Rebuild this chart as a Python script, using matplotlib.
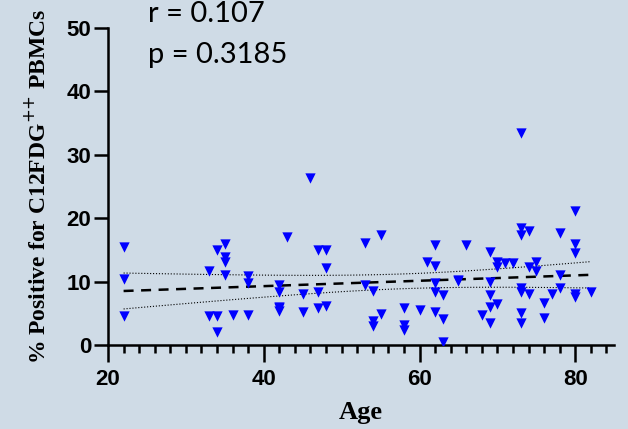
import numpy as np
from matplotlib import pyplot as plt
from matplotlib.ticker import MultipleLocator

# datos: edad y % positivo
edad = [22, 22, 22, 33, 33, 34, 34, 34, 35, 35, 35, 35, 36, 38, 38, 38,
        42, 42, 42, 42, 42, 43, 45, 45, 46, 47, 47, 47, 48, 48, 48,
        53, 53, 54, 54, 54, 55, 55, 58, 58, 58, 60, 61, 62, 62, 62, 62,
        62, 63, 63, 63, 65, 65, 66, 68, 69, 69, 69, 69, 69, 70, 70, 70,
        71, 72, 73, 73, 73, 73, 73, 73, 73, 74, 74, 74, 75, 75, 76, 76,
        77, 78, 78, 78, 80, 80, 80, 80, 80, 82]
positivo = [15.4, 10.4, 4.5, 11.7, 4.6, 15.0, 4.6, 2.1, 15.9, 13.8, 13.0, 11.0, 4.7, 10.8, 9.7, 4.7,
            9.5, 8.4, 6.0, 5.8, 5.3, 17.0, 8.0, 5.2, 26.4, 15.0, 8.3, 5.8, 15.0, 12.2, 6.2,
            16.1, 9.5, 8.5, 3.8, 3.0, 17.4, 4.9, 5.8, 3.2, 2.4, 5.5, 13.1, 15.8, 12.5, 9.7, 8.3,
            5.2, 7.9, 4.1, 0.5, 10.1, 10.3, 15.8, 4.7, 14.6, 10.0, 7.9, 6.0, 3.5, 13.1, 12.3, 6.4,
            12.9, 12.9, 33.4, 18.4, 17.4, 8.9, 8.3, 5.0, 3.5, 17.9, 12.3, 8.0, 13.0, 11.6, 6.6, 4.2,
            8.0, 17.6, 11.0, 8.9, 21.1, 15.9, 14.5, 8.0, 7.5, 8.3]

texto_r = "r = 0.107"
texto_p = "p = 0.3185"

fondo = '#cfdbe6'

x = np.array(edad, dtype=float)
y = np.array(positivo, dtype=float)

# regresion lineal con banda de confianza del 95%
pend, inter = np.polyfit(x, y, 1)
n = len(x)
xs = np.linspace(x.min(), x.max(), 100)
ys = inter + pend * xs
resid = y - (inter + pend * x)
s = np.sqrt(np.sum(resid ** 2) / (n - 2))
sxx = np.sum((x - x.mean()) ** 2)
t = 1.99
banda = t * s * np.sqrt(1 / n + (xs - x.mean()) ** 2 / sxx)

fig, ax = plt.subplots(figsize=(6.28, 4.29), dpi=100)
fig.patch.set_facecolor(fondo)
ax.set_facecolor(fondo)
plt.subplots_adjust(left=0.172, right=0.978, bottom=0.196, top=0.935)

ax.scatter(x, y, marker='v', s=55, color='#0000ff', zorder=3, linewidths=0)
ax.plot(xs, ys, color='black', linestyle=(0, (4, 3)), linewidth=1.8)
ax.plot(xs, ys + banda, color='black', linestyle=':', linewidth=0.8)
ax.plot(xs, ys - banda, color='black', linestyle=':', linewidth=0.8)

ax.set_xlim(20, 85)
ax.set_ylim(0, 50)
ax.spines['top'].set_visible(False)
ax.spines['right'].set_visible(False)
ax.spines['left'].set_linewidth(1.8)
ax.spines['bottom'].set_linewidth(1.8)

ax.xaxis.set_major_locator(MultipleLocator(20))
ax.xaxis.set_minor_locator(MultipleLocator(2))
ax.yaxis.set_major_locator(MultipleLocator(10))
ax.tick_params(axis='x', which='major', length=12, width=1.8, pad=5)
ax.tick_params(axis='x', which='minor', length=6, width=1.8)
ax.tick_params(axis='y', which='major', length=10, width=1.8, pad=2)

for lbl in ax.get_xticklabels() + ax.get_yticklabels():
    lbl.set_fontfamily('Liberation Sans')
    lbl.set_fontweight('bold')
    lbl.set_fontsize(16)

ax.set_xlabel('Age', family='Liberation Serif', fontweight='bold', fontsize=19, labelpad=8)
ax.set_ylabel('% Positive for C12FDG$^{{+}{+}}$ PBMCs', family='Liberation Serif',
              fontweight='bold', fontsize=17, labelpad=12)

fig.text(0.236, 0.949, texto_r, family='Lato', fontsize=21, va='baseline', ha='left')
fig.text(0.236, 0.853, texto_p, family='Lato', fontsize=21, va='baseline', ha='left')

plt.savefig('out.png', dpi=100, facecolor=fondo)
